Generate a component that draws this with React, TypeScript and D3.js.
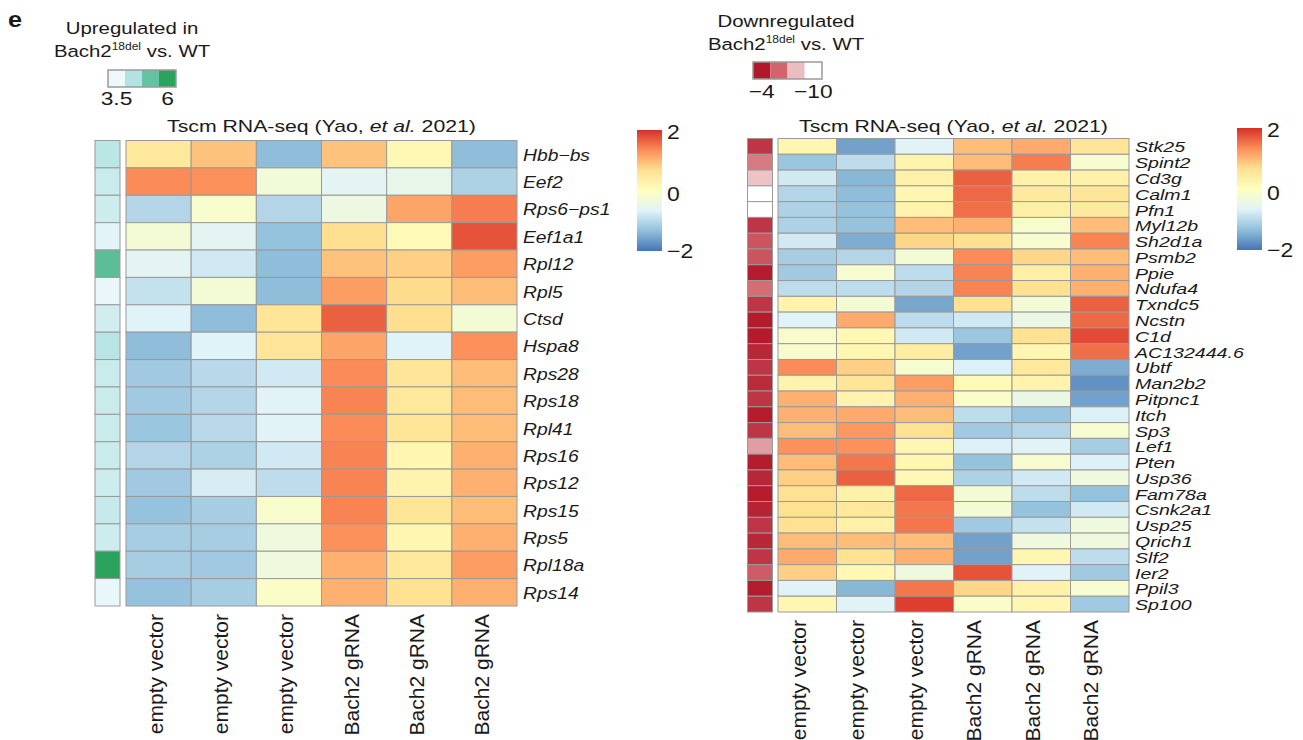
import React from 'react';
import * as d3 from 'd3';

const FONT = '"Liberation Sans", Arial, Helvetica, sans-serif';

// column (sample) labels, shared by both heatmaps
const samples = ['empty vector', 'empty vector', 'empty vector', 'Bach2 gRNA', 'Bach2 gRNA', 'Bach2 gRNA'];

// left heatmap: genes upregulated in Bach2 18del (row z-scores)
const upGenes = ['Hbb\u2212bs', 'Eef2', 'Rps6\u2212ps1', 'Eef1a1', 'Rpl12', 'Rpl5', 'Ctsd', 'Hspa8', 'Rps28',
  'Rps18', 'Rpl41', 'Rps16', 'Rps12', 'Rps15', 'Rps5', 'Rpl18a', 'Rps14'];
const upZ = [
  [0.5, 0.9, -1.35, 0.9, 0.15, -1.35],
  [1.35, 1.3, -0.3, -0.6, -0.5, -1.1],
  [-1.05, -0.15, -1.05, -0.4, 1.15, 1.45],
  [-0.25, -0.6, -1.3, 0.67, 0.1, 1.75],
  [-0.6, -0.8, -1.35, 0.9, 0.8, 1.2],
  [-0.9, -0.25, -1.35, 1.2, 0.7, 0.95],
  [-0.67, -1.35, 0.55, 1.65, 0.67, -0.25],
  [-1.35, -0.67, 0.55, 1.15, -0.67, 1.3],
  [-1.2, -1.0, -0.8, 1.35, 0.55, 0.95],
  [-1.2, -1.05, -0.65, 1.4, 0.5, 0.95],
  [-1.25, -1.0, -0.65, 1.35, 0.55, 0.95],
  [-1.05, -1.1, -0.8, 1.4, 0.2, 1.05],
  [-1.2, -0.75, -0.95, 1.4, 0.25, 1.05],
  [-1.3, -1.15, -0.15, 1.4, 0.55, 0.95],
  [-1.15, -1.15, -0.35, 1.3, 0.2, 1.05],
  [-1.15, -1.2, -0.35, 1.05, 0.5, 1.2],
  [-1.3, -1.15, -0.1, 1.05, 0.65, 1.05],
];
const upLfc = [4.2, 4.0, 3.95, 3.65, 5.3, 3.55, 3.9, 4.25, 4.0, 4.0, 4.0, 4.0, 3.95, 4.05, 3.95, 6.0, 3.55];

// right heatmap: genes downregulated in Bach2 18del (row z-scores)
const downGenes = ['Stk25', 'Spint2', 'Cd3g', 'Calm1', 'Pfn1', 'Myl12b', 'Sh2d1a', 'Psmb2', 'Ppie', 'Ndufa4',
  'Txndc5', 'Ncstn', 'C1d', 'AC132444.6', 'Ubtf', 'Man2b2', 'Pitpnc1', 'Itch', 'Sp3', 'Lef1', 'Pten', 'Usp36',
  'Fam78a', 'Csnk2a1', 'Usp25', 'Qrich1', 'Slf2', 'Ier2', 'Ppil3', 'Sp100'];
const downZ = [
  [0.2, -1.6, -0.65, 0.95, 1.1, 0.55],
  [-1.25, -0.95, 0.25, 0.95, 1.45, -0.2],
  [-0.8, -1.4, 0.3, 1.65, 0.3, 0.3],
  [-1.05, -1.35, 0.2, 1.6, 0.45, 0.55],
  [-1.1, -1.3, 0.25, 1.55, 0.35, 0.45],
  [-1.1, -1.3, 0.95, 1.05, -0.15, 0.95],
  [-0.8, -1.5, 0.75, 0.65, -0.15, 1.4],
  [-1.15, -1.05, -0.25, 1.35, 0.75, 0.95],
  [-1.2, -0.2, -0.95, 1.4, 0.35, 1.05],
  [-0.95, -0.95, -1.05, 1.4, 0.65, 1.05],
  [0.25, -0.25, -1.55, 0.65, -0.25, 1.65],
  [-0.65, 1.1, -0.95, -0.8, -0.45, 1.6],
  [-0.15, 0.15, -0.8, -1.25, 0.65, 1.8],
  [-0.15, 0.2, 0.4, -1.6, 0.2, 1.55],
  [1.35, 0.8, -0.2, -0.7, 0.5, -1.5],
  [0.25, 0.55, 1.2, 0.1, 0.25, -1.75],
  [1.05, 0.25, 1.05, -0.1, -0.45, -1.6],
  [1.05, 1.1, 0.95, -0.95, -1.25, -0.7],
  [0.95, 1.25, 0.65, -1.2, -1.05, -0.2],
  [1.3, 1.3, 0.2, -0.7, -0.65, -1.15],
  [0.95, 1.5, 0.2, -1.3, -0.2, -0.7],
  [0.8, 1.65, 0.15, -1.1, -0.8, -0.35],
  [0.65, 0.3, 1.6, -0.25, -0.95, -1.3],
  [0.65, 0.5, 1.5, -0.25, -1.3, -0.8],
  [0.65, 0.3, 1.5, -1.2, -0.9, -0.35],
  [0.95, 0.95, 0.95, -1.6, -0.35, -0.35],
  [1.1, 0.65, 1.05, -1.6, 0.2, -0.95],
  [0.8, 0.15, -0.35, 1.75, -0.65, -1.2],
  [-0.65, -1.4, 1.5, 0.75, 0.3, -0.2],
  [0.2, -0.65, 1.9, -0.1, 0.2, -1.2],
];
const downLfc = [-4.8, -6.5, -8.2, -10, -10, -4.8, -5.6, -5.6, -4.1, -6.2, -4.8, -4.1, -4.1, -4.4, -4.8, -4.5,
  -4.8, -4.1, -4.8, -7.3, -4.1, -4.4, -4.1, -4.3, -4.8, -4.4, -4.8, -5.8, -4.1, -4.8];

// colour legends
const heatColors = ['#4575b4', '#91bfdb', '#e0f3f8', '#ffffbf', '#fee090', '#fc8d59', '#d73027'];
const heatTicks = [-2, 0, 2];
const upColors = ['#edf8fb', '#b2e2e2', '#66c2a4', '#2ca25f'];
const upTicks = [3.5, 6];
const downColors = ['#b2182b', '#d1646c', '#ebbcc0', '#ffffff'];
const downTicks = [-4, -10];

const BORDER = '#9a9a9a';
const fmt = (v: number) => String(v).replace('-', '\u2212');

const heatColor = d3.scaleLinear<string>()
  .domain(heatColors.map((_, i) => -2 + (4 * i) / (heatColors.length - 1)))
  .range(heatColors)
  .clamp(true);

// the figure is stretched sideways, so text is drawn a bit wider than tall
function SText({ x, y, sx, children, ...rest }: any) {
  return <text transform={`translate(${x},${y}) scale(${sx},1)`} {...rest}>{children}</text>;
}

type PanelProps = {
  genes: string[];
  z: number[][];
  lfc: number[];
  annColor: (v: number) => string;
  annX: number; annW: number;
  x0: number; x1: number;
  y0: number; y1: number;
  labelSize: number; labelSx: number;
  colDx: number;
  gradId: string;
  barX: number; barY0: number; barY1: number;
};

function Heatmap(p: PanelProps) {
  const x = d3.scaleBand<number>().domain(d3.range(samples.length)).range([p.x0, p.x1]);
  const y = d3.scaleBand<string>().domain(p.genes).range([p.y0, p.y1]);
  const barY = d3.scaleLinear().domain([-2, 2]).range([p.barY1, p.barY0]);

  return (
    <g>
      <SText x={(p.x0 + p.x1) / 2} y={132} sx={1.25} textAnchor="middle" fontSize={17}>
        Tscm RNA-seq (Yao, <tspan fontStyle="italic">et al.</tspan> 2021)
      </SText>
      {p.genes.map((g, i) => (
        <rect key={'a' + g} x={p.annX} y={y(g)} width={p.annW} height={y.bandwidth()}
          fill={p.annColor(p.lfc[i])} stroke={BORDER} strokeWidth={1} />
      ))}
      {p.genes.map((g, i) => p.z[i].map((v, j) => (
        <rect key={g + j} x={x(j)} y={y(g)} width={x.bandwidth()} height={y.bandwidth()}
          fill={heatColor(v)} stroke={BORDER} strokeWidth={1} />
      )))}
      {p.genes.map(g => (
        <SText key={'l' + g} x={p.x1 + 6} y={(y(g) as number) + y.bandwidth() / 2 + 1} sx={p.labelSx}
          dominantBaseline="central" fontStyle="italic" fontSize={p.labelSize}>{g}</SText>
      ))}
      {samples.map((s, j) => {
        const cx = (x(j) as number) + x.bandwidth() / 2 + p.colDx;
        const cy = p.y1 + 8;
        return (
          <text key={'c' + j} transform={`translate(${cx},${cy}) rotate(-90)`} textAnchor="end"
            dominantBaseline="central" fontSize={21}>{s}</text>
        );
      })}
      <defs>
        <linearGradient id={p.gradId} x1="0" y1="1" x2="0" y2="0">
          {heatColors.map((c, i) => (
            <stop key={i} offset={i / (heatColors.length - 1)} stopColor={c} />
          ))}
        </linearGradient>
      </defs>
      <rect x={p.barX} y={p.barY0} width={25} height={p.barY1 - p.barY0} fill={`url(#${p.gradId})`} />
      {heatTicks.map(t => (
        <SText key={'t' + t} x={p.barX + 30} y={barY(t) + (t === 2 ? 2 : t === 0 ? 4 : 0)} sx={1.15}
          dominantBaseline="central" fontSize={20}>{fmt(t)}</SText>
      ))}
    </g>
  );
}

function AnnLegend({ cx, title1, colors, ticks, bx, by, bw, bh, tickY, titleY }:
  { cx: number; title1: string; colors: string[]; ticks: number[]; bx: number; by: number; bw: number; bh: number; tickY: number; titleY: number }) {
  const b = d3.scaleBand<number>().domain(d3.range(colors.length)).range([bx, bx + bw]);
  const t = d3.scaleLinear().domain([ticks[0], ticks[1]])
    .range([bx + b.bandwidth() / 2, bx + bw - b.bandwidth() / 2]);
  return (
    <g>
      <SText x={cx} y={titleY} sx={1.2} textAnchor="middle" fontSize={17}>{title1}</SText>
      <SText x={cx} y={titleY + 23} sx={1.2} textAnchor="middle" fontSize={17}>
        Bach2<tspan fontSize={10} dy={-7}>18del</tspan><tspan dy={7}> vs. WT</tspan>
      </SText>
      {colors.map((c, i) => (
        <rect key={i} x={b(i)} y={by} width={b.bandwidth()} height={bh} fill={c} />
      ))}
      <rect x={bx} y={by} width={bw} height={bh} fill="none" stroke={BORDER} strokeWidth={1.5} />
      {ticks.map(v => (
        <SText key={v} x={t(v)} y={tickY} sx={1.2} textAnchor="middle" fontSize={19}>{fmt(v)}</SText>
      ))}
    </g>
  );
}

export default function App() {
  const upAnn = d3.scaleLinear<string>()
    .domain(upColors.map((_, i) => 3.5 + (2.5 * i) / (upColors.length - 1)))
    .range(upColors).clamp(true);
  const downAnn = d3.scaleLinear<string>()
    .domain(downColors.map((_, i) => -4 - (6 * i) / (downColors.length - 1)))
    .range(downColors).clamp(true);

  return (
    <svg width={1303} height={740} style={{ position: 'absolute', left: 0, top: 0, background: '#fff' }}
      fontFamily={FONT} fill="#1a1a1a">
      <SText x={8} y={27} sx={1.15} fontSize={22} fontWeight="bold">e</SText>
      <AnnLegend cx={132} title1="Upregulated in" colors={upColors} ticks={upTicks}
        bx={108} by={70} bw={68} bh={17} tickY={105} titleY={34} />
      <AnnLegend cx={786} title1="Downregulated" colors={downColors} ticks={downTicks}
        bx={753} by={62} bw={69} bh={17} tickY={98} titleY={27} />
      <Heatmap genes={upGenes} z={upZ} lfc={upLfc} annColor={upAnn}
        annX={95} annW={25} x0={126} x1={517} y0={140.5} y1={606}
        labelSize={16.5} labelSx={1.17} colDx={-3} gradId="gradL" barX={637} barY0={130} barY1={251} />
      <Heatmap genes={downGenes} z={downZ} lfc={downLfc} annColor={downAnn}
        annX={747.5} annW={25} x0={778} x1={1129} y0={138.5} y1={612}
        labelSize={14.5} labelSx={1.35} colDx={-9} gradId="gradR" barX={1237} barY0={128} barY1={250} />
    </svg>
  );
}
